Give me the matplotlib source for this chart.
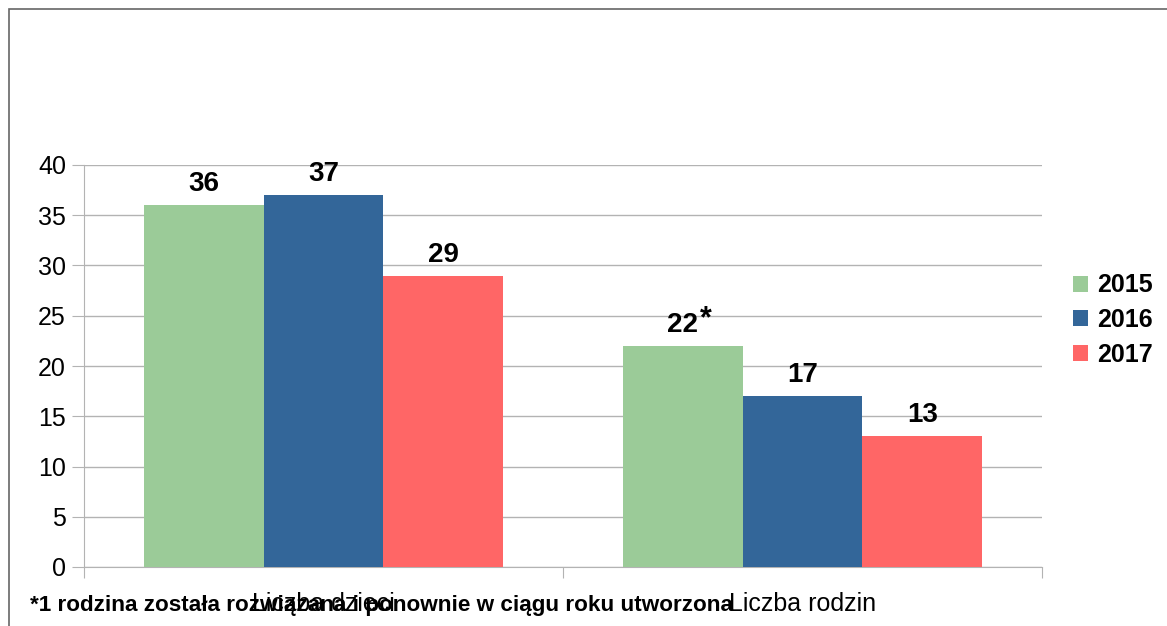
import matplotlib.pyplot as plt
from matplotlib.patches import Rectangle
import numpy as np

plt.rcParams['font.family'] = ['Liberation Sans', 'DejaVu Sans']

categories = ['Liczba dzieci', 'Liczba rodzin']
years = ['2015', '2016', '2017']
values_2015 = [36, 22]
values_2016 = [37, 17]
values_2017 = [29, 13]
yticks = [0, 5, 10, 15, 20, 25, 30, 35, 40]
footnote = '*1 rodzina została rozwiązana i ponownie w ciągu roku utworzona'

colors = ['#9BCB98', '#336699', '#FF6666']
series = [values_2015, values_2016, values_2017]

fig = plt.figure(figsize=(11.67, 6.26), dpi=100)
ax = fig.add_axes([84 / 1167, 1 - 567 / 626, 958 / 1167, 402 / 626])

x = np.arange(len(categories))
width = 0.25
handles = []
for i, (vals, col, yr) in enumerate(zip(series, colors, years)):
    bars = ax.bar(x + (i - 1) * width, vals, width, color=col, label=yr, zorder=3)
    handles.append(bars)
    for j, b in enumerate(bars):
        ax.text(b.get_x() + b.get_width() / 2, b.get_height() + 0.8, str(vals[j]),
                ha='center', va='bottom', fontsize=20, fontweight='bold', zorder=4)
        if i == 0 and j == 1:
            # footnote marker next to 22
            ax.text(b.get_x() + b.get_width() / 2 + 0.036, b.get_height() + 1.9, '*',
                    ha='left', va='baseline', fontsize=22, fontweight='bold', zorder=4)

ax.set_xlim(-0.5, 1.5)
ax.set_ylim(0, 40)
ax.set_yticks(yticks)
ax.tick_params(axis='y', labelsize=18, length=9, color='#b3b3b3', pad=4)
ax.yaxis.grid(True, color='#b3b3b3', linewidth=1, zorder=0)

ax.set_xticks([-0.5, 0.5, 1.5])
ax.set_xticklabels([])
ax.set_xticks(x, minor=True)
ax.set_xticklabels(categories, minor=True, fontsize=18)
ax.tick_params(axis='x', which='major', length=8, color='#b3b3b3')
ax.tick_params(axis='x', which='minor', length=0, pad=18)

for s in ['top', 'right']:
    ax.spines[s].set_visible(False)
ax.spines['left'].set_color('#b3b3b3')
ax.spines['bottom'].set_color('#b3b3b3')

fig.legend(handles=handles, labels=years, loc='center left',
           bbox_to_anchor=(1073 / 1167, 1 - 320 / 626), frameon=False,
           borderaxespad=0, borderpad=0,
           prop={'size': 18, 'weight': 'bold'}, handlelength=0.6, handleheight=0.6,
           handletextpad=0.36, labelspacing=0.42)

fig.text(30 / 1167, 1 - 606 / 626, footnote, fontsize=16.2, fontweight='bold',
         ha='left', va='center')

fig.patches.append(Rectangle((9 / 1167, -0.1), 1.1, 1 - 9 / 626 + 0.1,
                             transform=fig.transFigure, fill=False,
                             edgecolor='#666666', linewidth=1.2))

fig.savefig('out.png', dpi=100)
